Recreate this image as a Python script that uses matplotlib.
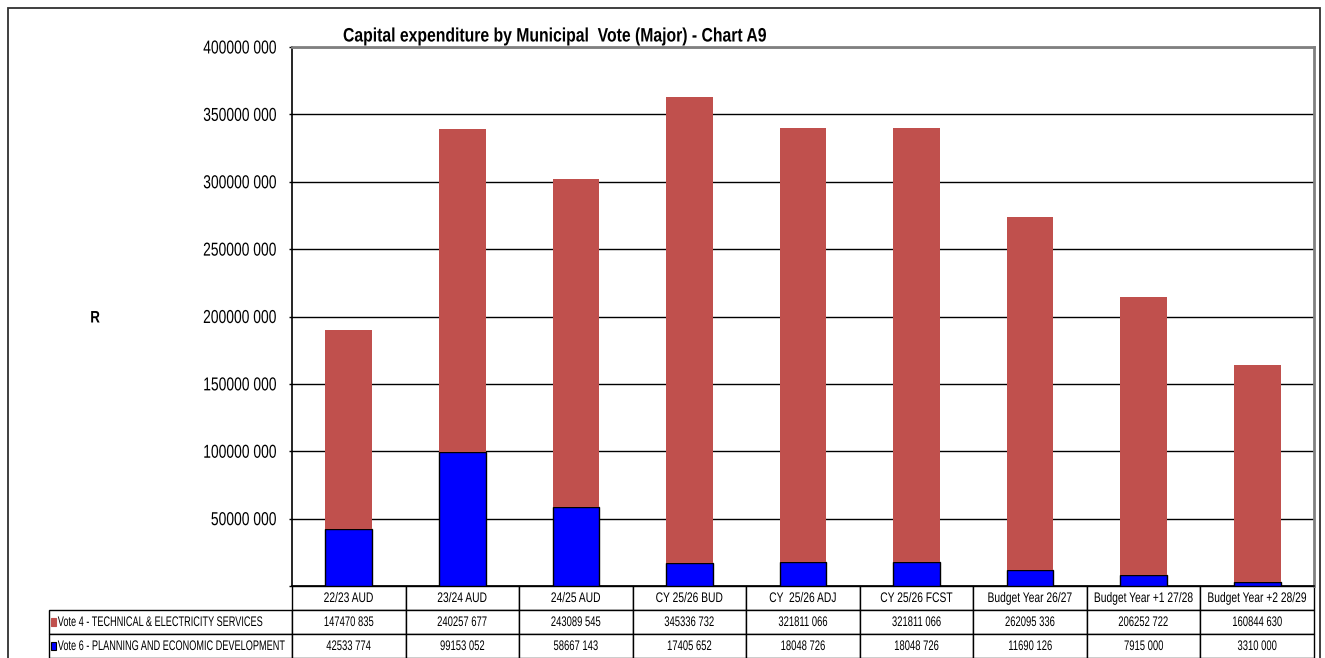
import matplotlib
matplotlib.use("Agg")
import matplotlib.pyplot as plt
from matplotlib.patches import Rectangle
from matplotlib.patheffects import AbstractPathEffect
from matplotlib.table import Table
from matplotlib.ticker import MultipleLocator, FuncFormatter
from matplotlib.transforms import Affine2D

plt.rcParams['font.family'] = ['Liberation Sans', 'DejaVu Sans']

periods = ["22/23 AUD", "23/24 AUD", "24/25 AUD", "CY 25/26 BUD", "CY  25/26 ADJ",
           "CY 25/26 FCST", "Budget Year 26/27", "Budget Year +1 27/28", "Budget Year +2 28/29"]
vote4 = [147470835, 240257677, 243089545, 345336732, 321811066,
         321811066, 262095336, 206252722, 160844630]
vote6 = [42533774, 99153052, 58667143, 17405652, 18048726,
         18048726, 11690126, 7915000, 3310000]
series_names = ["Vote 4 - TECHNICAL & ELECTRICITY SERVICES",
                "Vote 6 - PLANNING AND ECONOMIC DEVELOPMENT"]

RED = "#C0504D"
BLUE = "#0000FF"


class Squeeze(AbstractPathEffect):
    """Draw text glyphs compressed horizontally about an anchor (0=left, 1=right)."""

    def __init__(self, sx=0.7, anchor=0.5):
        super().__init__()
        self.sx, self.anchor = sx, anchor

    def draw_path(self, renderer, gc, tpath, affine, rgbFace=None):
        ext = tpath.get_extents()
        cx = ext.x0 + self.anchor * ext.width
        sq = Affine2D().translate(-cx, 0).scale(self.sx, 1).translate(cx, 0)
        renderer.draw_path(gc, tpath, sq + affine, rgbFace)


def rands(v):
    v = int(round(v))
    if v == 0:
        return ""
    return f"{v // 1000} {v % 1000:03d}"


W, H = 1325, 658
fig = plt.figure(figsize=(W / 100, H / 100), dpi=100)

# outer chart frame
fig.patches.append(Rectangle((8 / W, -0.05), 1312 / W, 1 - 8 / H + 0.05,
                             transform=fig.transFigure, fill=False,
                             edgecolor="#303030", linewidth=1.3))

ax_l, ax_r, ax_t, ax_b = 292, 1314, 47, 586
ax = fig.add_axes([ax_l / W, (H - ax_b) / H, (ax_r - ax_l) / W, (ax_b - ax_t) / H])

x = list(range(len(periods)))
ax.bar(x, vote6, width=0.41, color=BLUE, edgecolor="black", linewidth=1.0, zorder=3)
ax.bar(x, vote4, width=0.41, bottom=vote6, color=RED, linewidth=0, zorder=3)

ax.set_xlim(-0.5, len(periods) - 0.5)
ax.set_ylim(0, 400000000)
ax.yaxis.set_major_locator(MultipleLocator(50000000))
ax.yaxis.set_major_formatter(FuncFormatter(lambda v, p: rands(v)))
ax.yaxis.grid(True, color="black", linewidth=1.0, zorder=1)
ax.set_axisbelow(True)
ax.set_xticks([])
ax.tick_params(axis="y", length=2.4, width=1, pad=8.2, labelsize=13.5)
for t in ax.yaxis.get_major_ticks(9):
    t.label1.set_path_effects([Squeeze(0.74, anchor=1.0)])

for side in ("top", "right"):
    ax.spines[side].set_color("#808080")
    ax.spines[side].set_linewidth(2)
for side in ("left", "bottom"):
    ax.spines[side].set_color("black")
    ax.spines[side].set_linewidth(1.2)

fig.text(555 / W, 1 - 37 / H, "Capital expenditure by Municipal  Vote (Major) - Chart A9",
         ha="center", va="center", fontsize=14, fontweight="bold",
         path_effects=[Squeeze(0.81)])
fig.text(95 / W, 1 - 318 / H, "R", ha="center", va="center", fontsize=12,
         fontweight="bold", path_effects=[Squeeze(0.8)])

# data table under the plot
ax_w, ax_h = ax_r - ax_l, ax_b - ax_t
lab_w, col_w, row_h = 243, ax_w / len(periods), 24
tb = Table(ax, bbox=[-lab_w / ax_w, -3 * row_h / ax_h, (ax_w + lab_w) / ax_w, 3 * row_h / ax_h])
for j, p in enumerate(periods):
    c = tb.add_cell(0, j + 1, width=col_w, height=row_h, text=p, loc="center")
    c.get_text().set_path_effects([Squeeze(0.74)])
for i, (name, vals) in enumerate(zip(series_names, [vote4, vote6])):
    c = tb.add_cell(i + 1, 0, width=lab_w, height=row_h, text=name, loc="left")
    c.PAD = 0.036
    c.get_text().set_path_effects([Squeeze(0.66, anchor=0.0)])
    for j, v in enumerate(vals):
        c = tb.add_cell(i + 1, j + 1, width=col_w, height=row_h, text=rands(v), loc="center")
        c.get_text().set_path_effects([Squeeze(0.68)])
tb.auto_set_font_size(False)
for cell in tb.get_celld().values():
    cell.set_edgecolor("black")
    cell.set_linewidth(1.0)
    cell.get_text().set_fontsize(10)
ax.add_table(tb)

# legend keys in the label column
for i, (col, ec) in enumerate([(RED, RED), (BLUE, "black")]):
    yc = -(i + 1.5) * row_h / ax_h
    ax.add_patch(Rectangle(((-lab_w + 1.5) / ax_w, yc - 4 / ax_h), 5 / ax_w, 8 / ax_h,
                           transform=ax.transAxes, facecolor=col, edgecolor=ec,
                           linewidth=0.8, clip_on=False, zorder=5))

fig.savefig("out.png", dpi=100)
